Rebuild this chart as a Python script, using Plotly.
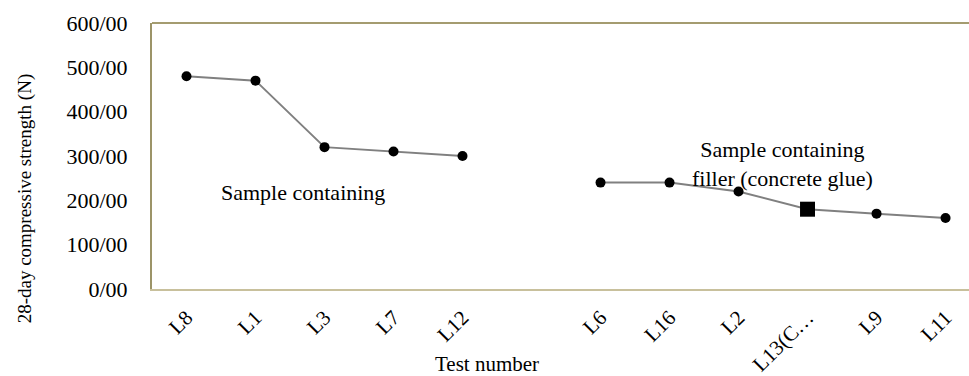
import plotly.graph_objects as go

categories = ["L8", "L1", "L3", "L7", "L12", "", "L6", "L16", "L2", "L13(C…", "L9", "L11"]
strength = [480, 470, 320, 310, 300, None, 240, 240, 220, 180, 170, 160]
marker_symbols = ["circle"] * 9 + ["square"] + ["circle"] * 2
marker_sizes = [10] * 9 + [15] + [10] * 2
y_ticks = [0, 100, 200, 300, 400, 500, 600]
y_ticktext = ["0/00", "100/00", "200/00", "300/00", "400/00", "500/00", "600/00"]

xpos = list(range(len(categories)))
font = "Liberation Serif, Times New Roman, serif"

fig = go.Figure()
fig.add_trace(go.Scatter(
    x=xpos, y=strength, mode="lines+markers",
    line=dict(color="#808080", width=2),
    marker=dict(color="black", symbol=marker_symbols, size=marker_sizes,
                opacity=1, line=dict(color="black", width=0)),
    connectgaps=False, showlegend=False, hoverinfo="skip",
))

fig.update_layout(
    width=969, height=376,
    margin=dict(l=152, r=0, t=23, b=83),
    plot_bgcolor="white", paper_bgcolor="white",
    font=dict(family=font, size=21, color="black"),
    xaxis=dict(
        range=[-0.5, 11.34], tickvals=xpos, ticktext=categories,
        tickangle=-45, showgrid=False, zeroline=False,
        showline=True, linecolor="#C8C09C", linewidth=2, mirror=False,
        ticks="", ticklabelstandoff=6, tickfont=dict(size=21, family=font),
    ),
    yaxis=dict(
        range=[0, 600], tickvals=y_ticks, ticktext=y_ticktext,
        showgrid=False, zeroline=False,
        showline=True, linecolor="#9C9468", linewidth=2,
        ticks="", ticklen=0, ticklabelstandoff=18, tickfont=dict(size=22, family=font),
    ),
    shapes=[dict(type="line", xref="paper", yref="paper", x0=0, x1=1, y0=1, y1=1,
                 line=dict(color="#A49C70", width=2))],
    annotations=[
        dict(text="Sample containing", x=1.69, y=218, xref="x", yref="y",
             showarrow=False, font=dict(size=22, family=font)),
        dict(text="Sample containing<br>filler (concrete glue)", x=8.63, y=282, xref="x", yref="y",
             showarrow=False, font=dict(size=22, family=font)),
        dict(text="Test number", x=(487 - 152) / 817, y=-76 / 270, xref="paper", yref="paper",
             yanchor="middle", showarrow=False, font=dict(size=21, family=font)),
        dict(text="28-day compressive strength (N)", x=(25 - 152) / 817, y=(293 - 201) / 270,
             xref="paper", yref="paper", textangle=-90, xanchor="center", yanchor="middle",
             showarrow=False, font=dict(size=19, family=font)),
    ],
)

fig.write_html("out.html")
